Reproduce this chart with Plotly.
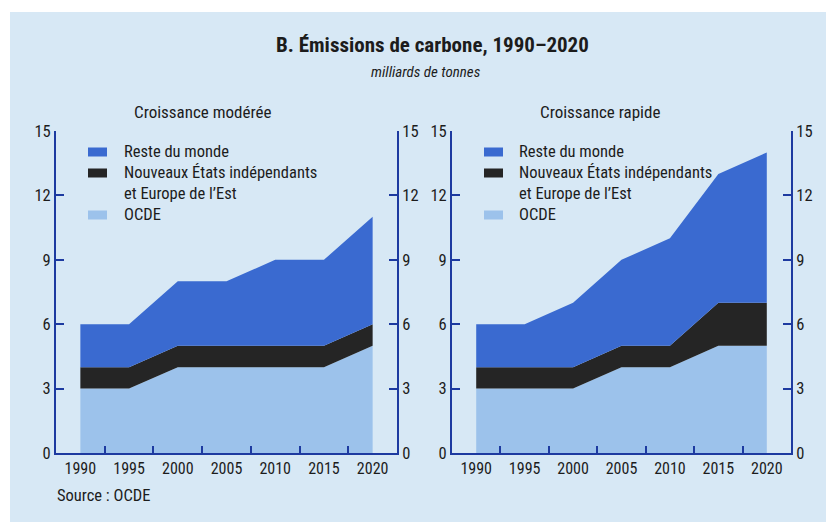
import plotly.graph_objects as go

W, H = 826, 522

years = [1990, 1995, 2000, 2005, 2010, 2015, 2020]
year_labels = ["1990", "1995", "2000", "2005", "2010", "2015", "2020"]

series_names = ["OCDE", "Nouveaux États indépendants<br>et Europe de l’Est", "Reste du monde"]
series_colors = ["#9cc2eb", "#252525", "#3a6ad0"]

# Croissance modérée (milliards de tonnes)
mod_ocde = [3, 3, 4, 4, 4, 4, 5]
mod_nei = [1, 1, 1, 1, 1, 1, 1]
mod_reste = [2, 2, 3, 3, 4, 4, 5]

# Croissance rapide (milliards de tonnes)
rap_ocde = [3, 3, 3, 4, 4, 5, 5]
rap_nei = [1, 1, 1, 1, 1, 2, 2]
rap_reste = [2, 2, 3, 4, 5, 6, 7]

y_ticks = [0, 3, 6, 9, 12, 15]
panel_titles = ["Croissance modérée", "Croissance rapide"]

FONT = "Roboto Condensed, Liberation Sans Narrow, Roboto, sans-serif"
TXT = "#1c1c1c"
AXIS = "#1d3aa0"
BG = "#d7e8f5"


def px(x):
    return x / W


def py(y):
    return 1 - y / H


fig = go.Figure()

panels = [
    dict(data=[mod_ocde, mod_nei, mod_reste], xa="x", ya="y", ya2="y2",
         title_x=202, leg_sw=88, leg_tx=122),
    dict(data=[rap_ocde, rap_nei, rap_reste], xa="x2", ya="y3", ya2="y4",
         title_x=600, leg_sw=484, leg_tx=517),
]

for i, p in enumerate(panels):
    for vals, name, col in zip(p["data"], series_names, series_colors):
        fig.add_trace(go.Scatter(
            x=years, y=vals, name=name, mode="lines",
            stackgroup=f"s{i}", line=dict(width=0, color=col),
            fillcolor=col, xaxis=p["xa"], yaxis=p["ya"],
            showlegend=False, hoverinfo="skip",
        ))
    # invisible trace so the right-hand axis is drawn
    fig.add_trace(go.Scatter(x=[years[0]], y=[0], mode="markers",
                             marker=dict(opacity=0), xaxis=p["xa"], yaxis=p["ya2"],
                             showlegend=False, hoverinfo="skip"))

y_bot, y_top = 453, 131
ydom = [py(y_bot), py(y_top)]
xrange = [1987.5, 2022.5]
mids = [y + 2.5 for y in years[:-1]]

xcommon = dict(range=xrange, tickvals=years, ticktext=year_labels, ticks="",
               showline=True, linecolor=AXIS, linewidth=2, showgrid=False, zeroline=False,
               tickfont=dict(family=FONT, size=16, color=TXT), automargin=False,
               minor=dict(tickvals=mids, ticks="inside", ticklen=7, tickcolor=AXIS,
                          tickwidth=1.5, showgrid=False),
               fixedrange=True)
ycommon = dict(range=[0, 15], tickvals=y_ticks, ticks="inside", ticklen=8, tickcolor=AXIS,
               tickwidth=1.5, showline=True, linecolor=AXIS, linewidth=2, showgrid=False,
               zeroline=False, tickfont=dict(family=FONT, size=16.5, color=TXT),
               automargin=False, fixedrange=True)

fig.update_layout(
    xaxis=dict(domain=[px(56), px(397)], anchor="y", **xcommon),
    xaxis2=dict(domain=[px(452), px(791)], anchor="y3", **xcommon),
    yaxis=dict(domain=ydom, anchor="x", side="left", **ycommon),
    yaxis2=dict(overlaying="y", anchor="x", side="right", **ycommon),
    yaxis3=dict(domain=ydom, anchor="x2", side="left", **ycommon),
    yaxis4=dict(overlaying="y3", anchor="x2", side="right", **ycommon),
)

shapes = [dict(type="rect", xref="paper", yref="paper", x0=px(10), x1=1, y0=0, y1=py(12),
               fillcolor=BG, line=dict(width=0), layer="below")]
annotations = [
    dict(text="<b>B. Émissions de carbone, 1990–2020</b>", x=px(432), y=py(45),
         font=dict(family=FONT, size=21, color=TXT)),
    dict(text="<i>milliards de tonnes</i>", x=px(426), y=py(72),
         font=dict(family=FONT, size=15, color=TXT)),
    dict(text="Source : OCDE", x=px(55), y=py(495), xanchor="left",
         font=dict(family=FONT, size=16.5, color=TXT)),
]

# swatch centres and text tops for legend rows (top-down: Reste, NEI, OCDE)
leg_rows = [(152, 140), (173, 161), (215, 203)]
for i, p in enumerate(panels):
    annotations.append(dict(text=panel_titles[i], x=px(p["title_x"]), y=py(112),
                            font=dict(family=FONT, size=17, color=TXT)))
    for (cy, ty), name, col in zip(leg_rows, series_names[::-1], series_colors[::-1]):
        shapes.append(dict(type="rect", xref="paper", yref="paper",
                           x0=px(p["leg_sw"]), x1=px(p["leg_sw"] + 19),
                           y0=py(cy + 4.5), y1=py(cy - 4.5),
                           fillcolor=col, line=dict(width=0)))
        annotations.append(dict(text=name, x=px(p["leg_tx"]), y=py(ty), xanchor="left",
                                yanchor="top", align="left",
                                font=dict(family=FONT, size=16.5, color=TXT)))

for a in annotations:
    a.setdefault("xref", "paper")
    a.setdefault("yref", "paper")
    a.setdefault("showarrow", False)
    a.setdefault("xanchor", "center")
    a.setdefault("yanchor", "middle")

fig.update_layout(
    width=W, height=H, margin=dict(l=0, r=0, t=0, b=0, pad=0, autoexpand=False),
    paper_bgcolor="white", plot_bgcolor="rgba(0,0,0,0)",
    shapes=shapes, annotations=annotations, showlegend=False,
    font=dict(family=FONT, color=TXT),
)

fig.write_html("out.html")
